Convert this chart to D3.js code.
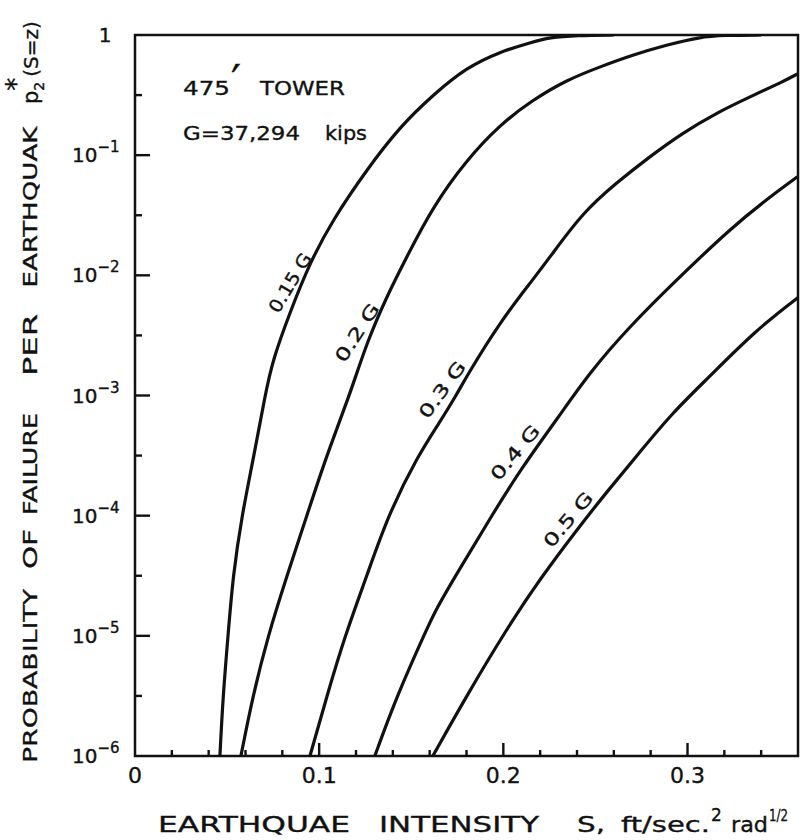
<!DOCTYPE html>
<html><head><meta charset="utf-8">
<script src="https://cdn.jsdelivr.net/npm/d3@7"></script>
<style>
body{margin:0;background:#fff}
svg{display:block}
text{font-family:"DejaVu Sans",sans-serif;fill:#111;stroke:#111;stroke-width:0.35px}
</style>
</head><body>
<svg id="c" width="801" height="840"></svg>
<script>
// ---------- data ----------
const seriesNames = ["0.15 G", "0.2 G", "0.3 G", "0.4 G", "0.5 G"];

// [S (ft/sec^2 rad^1/2), probability of failure]
const g015 = [[0.0461,1e-6],[0.0478,3.16e-6],[0.0505,1e-5],[0.0532,3.16e-5],[0.058,1e-4],
  [0.0646,3.16e-4],[0.0706,1e-3],[0.0749,2e-3],[0.0841,4.9e-3],[0.095,1.28e-2],[0.1074,2.9e-2],
  [0.1259,7.6e-2],[0.1438,0.172],[0.1617,0.316],[0.180,0.537],[0.198,0.724],[0.215,0.867],
  [0.225,0.955],[0.24,0.993],[0.26,1]];
const g020 = [[0.0575,1e-6],[0.064,3.16e-6],[0.0722,1e-5],[0.0825,3.16e-5],[0.0933,1e-4],
  [0.104,3.16e-4],[0.1165,1e-3],[0.1259,2.77e-3],[0.1367,6.67e-3],[0.1476,0.0143],[0.1617,0.0372],
  [0.180,0.0912],[0.198,0.178],[0.215,0.282],[0.2344,0.423],[0.2523,0.542],[0.2702,0.682],
  [0.2887,0.826],[0.3066,0.962],[0.32,0.995],[0.34,1]];
const g030 = [[0.095,1e-6],[0.1042,3.16e-6],[0.114,1e-5],[0.1259,3.16e-5],[0.1373,1e-4],
  [0.1536,3.16e-4],[0.1655,6.0e-4],[0.1747,1.02e-3],[0.1801,1.45e-3],[0.198,4.05e-3],
  [0.216,9.2e-3],[0.2252,0.0141],[0.2431,0.0333],[0.2615,0.059],[0.2794,0.097],[0.2973,0.153],
  [0.3158,0.225],[0.3337,0.305],[0.3516,0.407],[0.3597,0.474]];
const g040 = [[0.1302,1e-6],[0.1422,3.16e-6],[0.1568,1e-5],[0.1633,1.66e-5],[0.1763,3.6e-5],
  [0.1926,9.4e-5],[0.2105,2.58e-4],[0.229,6.3e-4],[0.2469,1.56e-3],[0.2686,3.76e-3],
  [0.2941,9.2e-3],[0.3245,0.0254],[0.3429,0.0427],[0.3597,0.0661]];
const g050 = [[0.1617,1e-6],[0.1801,3.18e-6],[0.2018,1.14e-5],[0.2198,2.97e-5],[0.2415,8.2e-5],
  [0.2561,1.57e-4],[0.274,3.37e-4],[0.2919,7.2e-4],[0.3104,1.36e-3],[0.3375,3.55e-3],
  [0.3608,6.67e-3]];
const seriesData = [g015, g020, g030, g040, g050];

const yTickExps = [-6, -5, -4, -3, -2, -1, 0];
const xTickValues = [0, 0.1, 0.2, 0.3];
const xTickLabels = ["0", "0.1", "0.2", "0.3"];
const xMinorValues = [0.02,0.04,0.06,0.08,0.12,0.14,0.16,0.18,0.22,0.24,0.26,0.28,0.32,0.34];

// ---------- layout ----------
const svg = d3.select("#c");
const L = 135, R = 798, T = 35, B = 756;
const x = d3.scaleLinear().domain([0, 0.36]).range([L, R]);
const y = d3.scaleLog().domain([1e-6, 1]).range([B, T]);
const ink = "#111";

svg.append("defs").append("clipPath").attr("id","plot")
  .append("rect").attr("x",L).attr("y",T).attr("width",R-L).attr("height",B-T);

// ticks (inward), positioned through the scales
const yMajor = yTickExps.map(e => Math.pow(10, e));
const yMinor = yMajor.slice(1).map((v,i) => Math.sqrt(v*yMajor[i]));
const tickG = svg.append("g");
function tickLines(cls, data, f){
  tickG.selectAll("line."+cls).data(data).join("line").attr("class",cls)
    .attr("stroke", ink).attr("stroke-width", 2.4).each(function(d){
      const [x1,y1,x2,y2] = f(d);
      d3.select(this).attr("x1",x1).attr("y1",y1).attr("x2",x2).attr("y2",y2);
    });
}
tickLines("ym", yMajor.slice(1,-1), d => [L, y(d), L+15, y(d)]);
tickLines("yn", yMinor, d => [L, y(d), L+7, y(d)]);
tickLines("xm", xTickValues.slice(1), d => [x(d), B, x(d), B-13]);
tickLines("xn", xMinorValues, d => [x(d), B, x(d), B-6]);

// frame
svg.append("rect").attr("x",L).attr("y",T).attr("width",R-L).attr("height",B-T)
  .attr("fill","none").attr("stroke",ink).attr("stroke-width",2.5);

// curves
const line = d3.line().x(d => x(d[0])).y(d => y(d[1])).curve(d3.curveBasis);
svg.append("g").attr("clip-path","url(#plot)").selectAll("path").data(seriesData).join("path")
  .attr("d", line).attr("fill","none").attr("stroke",ink).attr("stroke-width",3.2)
  .attr("stroke-linejoin","round");

// helper for stretched text
function word(str, attrs){
  const t = svg.append("text");
  Object.entries(attrs).forEach(([k,v]) => t.attr(k,v));
  if (attrs.textLength) t.attr("lengthAdjust","spacingAndGlyphs");
  return t.text(str);
}

// curve labels
const labelPos = [[0.0841,0.00869,-59],[0.1205,0.00334,-57],[0.1667,0.00112,-54],
                  [0.2063,3.36e-4,-50],[0.2351,9.3e-5,-50]];
seriesNames.forEach((name,i) => {
  const [s,p,a] = labelPos[i];
  word(name, {transform:`translate(${x(s)},${y(p)}) rotate(${a})`, "text-anchor":"middle",
    "dominant-baseline":"central", "font-size":18, textLength:66});
});

// y tick labels
yTickExps.forEach(e => {
  const yy = y(Math.pow(10,e));
  if (e === 0) {
    svg.append("text").attr("x",105).attr("y",yy+7).attr("text-anchor","middle")
      .attr("font-size",20).text("1");
  } else {
    const t = svg.append("text").attr("x",72).attr("y",yy+7).attr("font-size",20);
    t.append("tspan").text("10");
    t.append("tspan").attr("dy",-10).attr("font-size",15).text("\u2212" + Math.abs(e));
  }
});

// x tick labels
xTickValues.forEach((v,i) => {
  svg.append("text").attr("x",x(v)).attr("y",783).attr("text-anchor","middle")
    .attr("font-size",22).text(xTickLabels[i]);
});

// annotations
word("475", {x:183, y:95, "font-size":20, textLength:47});
word("\u2032", {x:231, y:97, "font-size":44});
word("TOWER", {x:260, y:95, "font-size":20, textLength:85});
word("G=37,294", {x:183, y:140, "font-size":20, textLength:117});
word("kips", {x:325, y:140, "font-size":20, textLength:42});

// y-axis title (rotated, reading upward)
const yTitle = [["PROBABILITY",676,174],["OF",549,40],["FAILURE",464,102],["PER",345,62],["EARTHQUAK",207,161]];
yTitle.forEach(([w,cy,len]) => {
  word(w, {transform:`translate(37,${cy}) rotate(-90)`, "text-anchor":"middle",
    "font-size":20, textLength:len});
});
{
  const t = svg.append("text").attr("transform","translate(38,104) rotate(-90)").attr("font-size",21);
  t.append("tspan").text("p");
  t.append("tspan").attr("dy",6).attr("font-size",14).text("2");
  t.append("tspan").attr("dx",-9).attr("dy",-19).attr("font-size",26).text("*");
  t.append("tspan").attr("dx",1).attr("dy",13).attr("font-size",20).text("(S=z)");
}

// x-axis title
const TY = 832;
word("EARTHQUAE", {x:158, y:TY, "font-size":22, textLength:192});
word("INTENSITY", {x:379, y:TY, "font-size":22, textLength:160});
word("S,", {x:577, y:TY, "font-size":22, textLength:28});
word("ft/sec.", {x:621, y:TY, "font-size":22, textLength:89});
word("2", {x:711, y:TY-11, "font-size":17});
word("rad", {x:731, y:TY, "font-size":22, textLength:37});
word("1/2", {x:769, y:TY-11, "font-size":16, textLength:19});
</script>
</body></html>
